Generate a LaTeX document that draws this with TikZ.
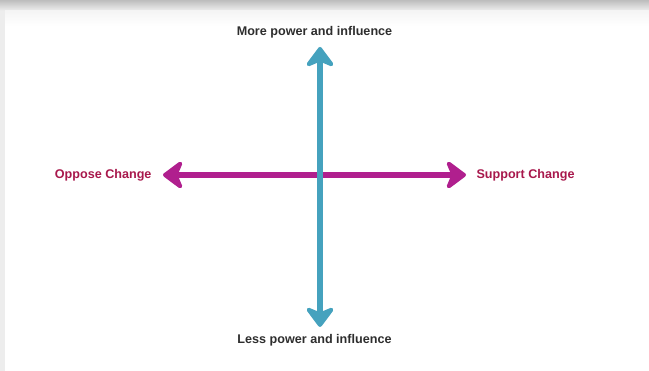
\documentclass[tikz,border=0pt]{standalone}
\usepackage{fontspec}
\setmainfont{Liberation Sans}
\usetikzlibrary{arrows.meta}

\definecolor{axisblue}{HTML}{45A2BE}
\definecolor{axispink}{HTML}{B01F8E}
\definecolor{labelred}{HTML}{A8184C}
\definecolor{labelgray}{HTML}{2E2E2E}

\begin{document}
\begin{tikzpicture}[x=1pt,y=1pt]
\tikzstyle{axis}=[line width=6pt,{Stealth[length=23pt,width=34pt,inset=7pt,round]}-{Stealth[length=23pt,width=34pt,inset=7pt,round]}]
\tikzstyle{powerlabel}=[font=\bfseries\fontsize{12.6}{15}\selectfont,text=labelgray]
\tikzstyle{changelabel}=[font=\bfseries\fontsize{12.6}{15}\selectfont,text=labelred]
\useasboundingbox (0,0) rectangle (649,371);
% card shadow
\fill[white] (0,0) rectangle (649,371);
\shade[top color=black!26,bottom color=black!6] (0,360) rectangle (649,371);
\fill[black!7] (0,0) rectangle (5,360);
\shade[top color=black!4,bottom color=white] (5,345) rectangle (649,360);
% axes
\coordinate (oppose) at (163,196);
\coordinate (support) at (466,196);
\coordinate (more) at (320,324);
\coordinate (less) at (320,44);
\draw[axis,axispink] (oppose) -- (support);
\draw[axis,axisblue] (less) -- (more);
% labels
\node[powerlabel] (morelbl) at (314.5,339) {More power and influence};
\node[powerlabel] (lesslbl) at (314.5,31) {Less power and influence};
\node[changelabel,anchor=east] (opposelbl) at (155,196) {Oppose Change};
\node[changelabel,anchor=west] (supportlbl) at (473,196) {Support Change};
\end{tikzpicture}
\end{document}
